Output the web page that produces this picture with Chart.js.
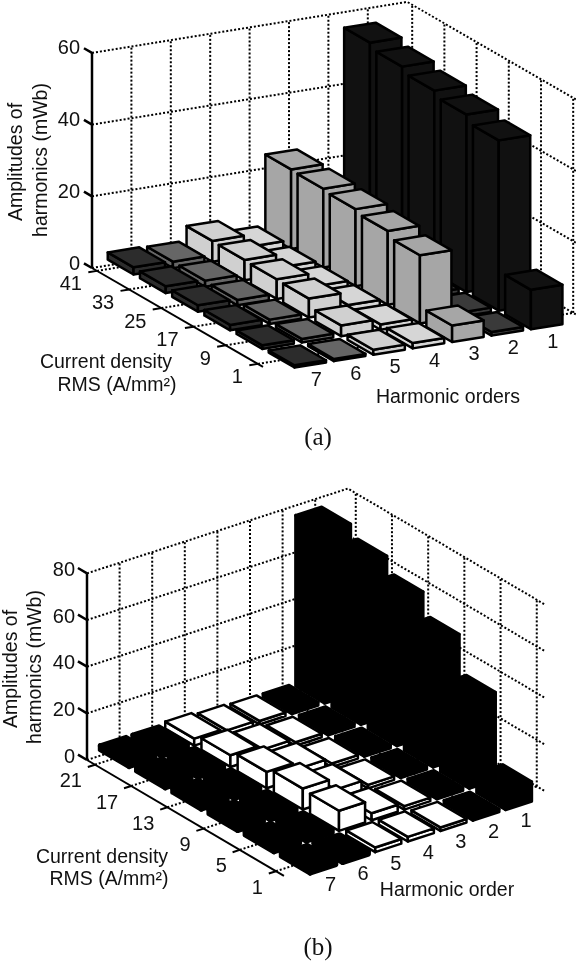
<!DOCTYPE html>
<html>
<head>
<meta charset="utf-8">
<script src="https://cdn.jsdelivr.net/npm/chart.js@4"></script>
<style>
  html, body { margin: 0; padding: 0; background: #fff; }
  canvas { position: absolute; left: 0; }
  #chartA { top: 0; }
  #chartB { top: 482px; }
</style>
</head>
<body>
<canvas id="chartA" width="576" height="482"></canvas>
<canvas id="chartB" width="576" height="482"></canvas>
<script>
// harmonic orders, drawn left to right
var harmonics = [7, 6, 5, 4, 3, 2, 1];

// panel (a), values per harmonic, density runs 1 -> 41
var densityA = [1, 9, 17, 25, 33, 41];
var zTicksA = [0, 20, 40, 60];
var a_h1 = [11, 47.5, 49.5, 51, 52.5, 54];
var a_h2 = [1, 1.2, 1.3, 1.4, 1.4, 1.5];
var a_h3 = [4.6, 19, 20.6, 21.5, 22, 22.2];
var a_h4 = [1.5, 1.5, 1.7, 1.8, 2, 2.5];
var a_h5 = [1.4, 3, 5.3, 5.5, 5.7, 5.8];
var a_h6 = [0.6, 1, 1.2, 1.5, 1.7, 1.8];
var a_h7 = [0.6, 1, 1.5, 1.8, 1.9, 2];

// panel (b), density runs 1 -> 21
var densityB = [1, 5, 9, 13, 17, 21];
var zTicksB = [0, 20, 40, 60, 80];
var b_h1 = [8.4, 37.6, 53.3, 62.4, 68.6, 73.2];
var b_h2 = [1.2, 1.3, 1.3, 1.3, 1.3, 1.3];
var b_h3 = [1.5, 1.5, 1.5, 1.5, 1.5, 1.5];
var b_h4 = [2, 3, 4, 4, 3, 2];
var b_h5 = [2, 8.6, 9, 7, 5, 3];
var b_h6 = [1.2, 1.5, 1.6, 1.7, 1.8, 1.8];
var b_h7 = [1.2, 1.5, 1.6, 1.7, 1.8, 1.8];

var FONT = '"Liberation Sans", Arial, sans-serif';

function makePanel(id, cfg) {
    var U = cfg.density.length - 1 + 2 * cfg.yMargin;

    // orthographic view of the box: t along harmonics, u along density, z up
    function project(t, u, z) {
        return {
            x: cfg.origin[0] + t * cfg.xv[0] + u * cfg.yv[0],
            y: cfg.origin[1] + t * cfg.xv[1] + u * cfg.yv[1] - z * cfg.zScale
        };
    }

    var sets = [];

    function line(pts, width, dash) {
        sets.push({
            data: pts, showLine: true, fill: false, pointRadius: 0,
            borderColor: '#000', borderWidth: width, borderDash: dash || []
        });
    }

    function poly(pts, color, edge) {
        sets.push({
            data: pts.concat([pts[0]]), showLine: true, fill: 'shape', pointRadius: 0,
            backgroundColor: color, borderColor: '#000', borderWidth: edge,
            borderJoinStyle: 'round', borderCapStyle: 'round'
        });
    }

    var zMax = cfg.zTicks[cfg.zTicks.length - 1];
    var dots = [2, 2];

    // walls
    cfg.zTicks.forEach(function (z) {
        line([project(0, 0, z), project(8, 0, z), project(8, U, z)], 2, dots);
    });
    harmonics.forEach(function (h, i) {
        line([project(i + 1, 0, 0), project(i + 1, 0, zMax)], 2, dots);
        line([project(i + 1, 0, 0), project(i + 1, U, 0)], 2, dots);
    });
    cfg.density.forEach(function (d, j) {
        var u = U - cfg.yMargin - j;
        line([project(8, u, 0), project(8, u, zMax)], 2, dots);
        line([project(0, u, 0), project(8, u, 0)], 2, dots);
    });

    // axes and ticks
    line([project(0, 0, 0), project(0, 0, zMax)], cfg.axisWidth);
    line([project(0, 0, 0), project(0, U, 0)], cfg.axisWidth - 0.5);
    cfg.zTicks.forEach(function (z) {
        line([project(0, 0, z), project(0, -0.25, z)], cfg.axisWidth);
    });
    cfg.density.forEach(function (d, j) {
        var u = U - cfg.yMargin - j;
        line([project(0, u, 0), project(-0.22, u, 0)], cfg.axisWidth - 0.5);
    });

    // bars, back to front
    var w = 0.4;
    for (var i = harmonics.length - 1; i >= 0; i--) {
        var vals = cfg.series[i];
        var e = cfg.edges[i];
        for (var j = vals.length - 1; j >= 0; j--) {
            var t = i + 1;
            var u = U - cfg.yMargin - j;
            var z = vals[j];
            var c = cfg.colors[i];
            poly([project(t - w, u - w, 0), project(t - w, u + w, 0), project(t - w, u + w, z), project(t - w, u - w, z)], c, e);
            poly([project(t - w, u + w, 0), project(t + w, u + w, 0), project(t + w, u + w, z), project(t - w, u + w, z)], c, e);
            poly([project(t - w, u - w, z), project(t + w, u - w, z), project(t + w, u + w, z), project(t - w, u + w, z)], c, e);
        }
    }

    var labels = {
        id: 'panelText',
        afterDraw: function (chart) {
            var ctx = chart.ctx;
            var sx = chart.scales.x, sy = chart.scales.y;
            function text(str, x, y, align, size, family, rot) {
                ctx.save();
                ctx.translate(sx.getPixelForValue(x), sy.getPixelForValue(y));
                if (rot) ctx.rotate(rot);
                ctx.font = size + 'px ' + (family || FONT);
                ctx.fillStyle = '#111';
                ctx.textAlign = align || 'center';
                ctx.textBaseline = 'middle';
                ctx.fillText(str, 0, 0);
                ctx.restore();
            }
            cfg.zTicks.forEach(function (z) {
                var p = project(0, 0, z);
                text(String(z), p.x - 12, p.y + cfg.zLabelDy, 'right', 20);
            });
            cfg.density.forEach(function (d, j) {
                var p = project(0, U - cfg.yMargin - j, 0);
                text(String(d), p.x + cfg.dLabel[0], p.y + cfg.dLabel[1], 'right', 20);
            });
            harmonics.forEach(function (h, i) {
                var p = project(i + 1, U, 0);
                text(String(h), p.x + 14, p.y + 20, 'center', 20);
            });
            cfg.titles.forEach(function (l) {
                text(l[0], l[1], l[2], 'center', l[3] || 19.5, l[4], l[5]);
            });
        }
    };

    return new Chart(document.getElementById(id), {
        type: 'scatter',
        data: { datasets: sets.reverse() },
        plugins: [labels],
        options: {
            responsive: false,
            animation: false,
            layout: { padding: 0 },
            plugins: { legend: { display: false }, tooltip: { enabled: false } },
            scales: {
                x: { type: 'linear', display: false, min: 0, max: 576 },
                y: { type: 'linear', display: false, min: cfg.yRange[0], max: cfg.yRange[1], reverse: true }
            }
        }
    });
}

makePanel('chartA', {
    yRange: [0, 482],
    origin: [92, 268], xv: [39.4, -6.375], yv: [32.2, 18.6], zScale: 3.585, yMargin: 0.155,
    density: densityA, zTicks: zTicksA,
    series: [a_h7, a_h6, a_h5, a_h4, a_h3, a_h2, a_h1],
    colors: ['#2c2c2c', '#666666', '#d0d0d0', '#d6d6d6', '#a6a6a6', '#3a3a3a', '#111111'],
    edges: [2.5, 2.5, 2.5, 2.5, 2.5, 2.5, 2.5],
    axisWidth: 2.5, zLabelDy: -4, dLabel: [-15, 14],
    titles: [
        ['Amplitudes of', 17, 162, 19.5, null, -Math.PI / 2],
        ['harmonics (mWb)', 42, 160, 19.5, null, -Math.PI / 2],
        ['Current density', 106, 363],
        ['RMS (A/mm²)', 117, 386],
        ['Harmonic orders', 448, 398],
        ['(a)', 318, 438, 25, '"Liberation Serif", serif']
    ]
});

makePanel('chartB', {
    yRange: [482, 964],
    origin: [87, 760], xv: [32.6, -10.6], yv: [36.2, 21.3], zScale: 2.333, yMargin: 0.22,
    density: densityB, zTicks: zTicksB,
    series: [b_h7, b_h6, b_h5, b_h4, b_h3, b_h2, b_h1],
    colors: ['#000000', '#000000', '#ffffff', '#ffffff', '#ffffff', '#000000', '#000000'],
    edges: [4.5, 4.5, 2.5, 2.5, 2.5, 3, 3],
    axisWidth: 2.5, zLabelDy: -3, dLabel: [-13, 17],
    titles: [
        ['Amplitudes of', 12, 669, 19.5, null, -Math.PI / 2],
        ['harmonics (mWb)', 36, 667, 19.5, null, -Math.PI / 2],
        ['Current density', 102, 858],
        ['RMS (A/mm²)', 109, 880],
        ['Harmonic order', 447, 891],
        ['(b)', 318, 948, 25, '"Liberation Serif", serif']
    ]
});
</script>
</body>
</html>
